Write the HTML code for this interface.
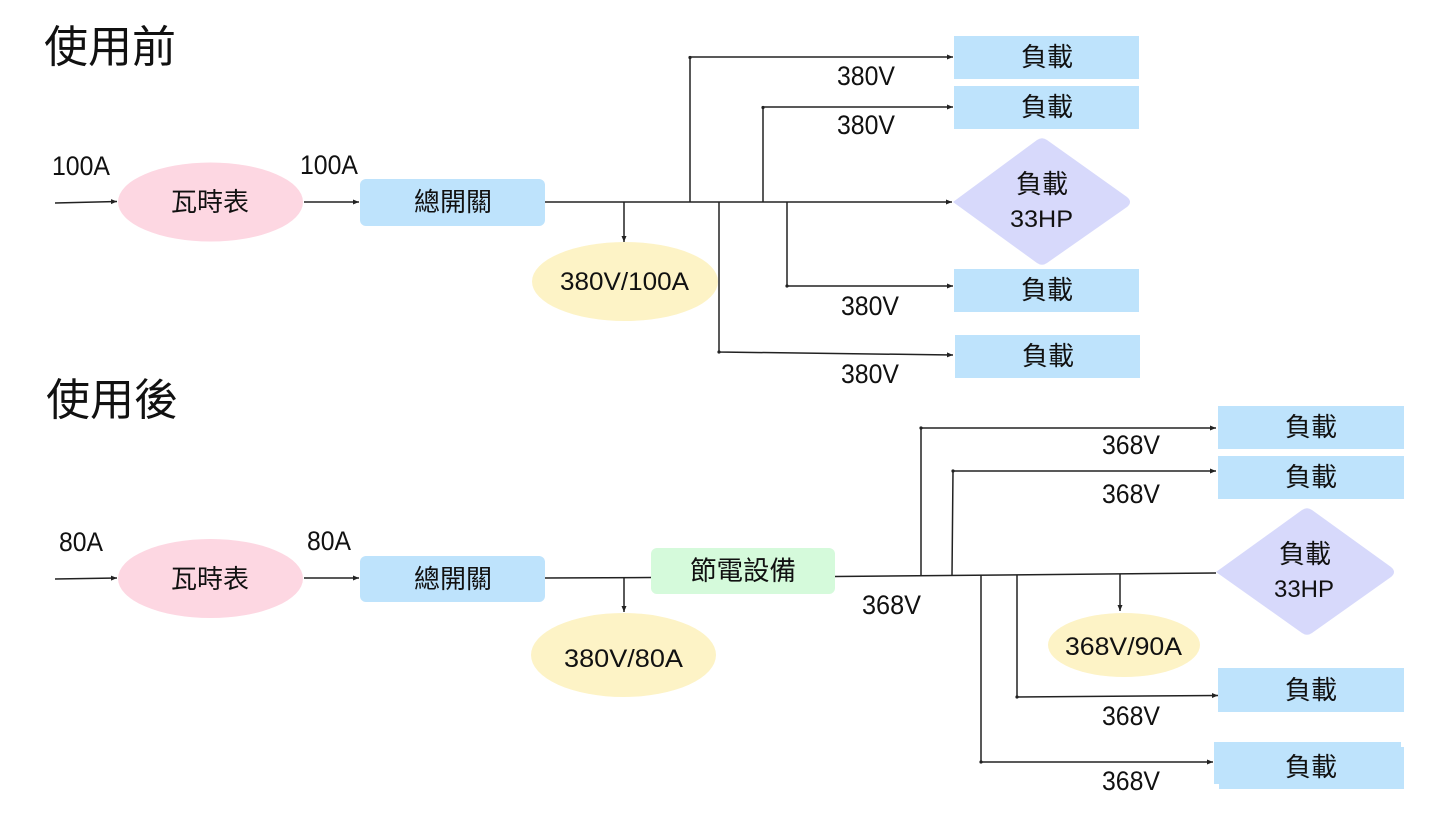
<!DOCTYPE html>
<html><head><meta charset="utf-8">
<style>
html,body{margin:0;padding:0;background:#fff;}
svg{display:block;}
.cjk{font-family:"Liberation Sans","Noto Sans CJK TC","Noto Sans CJK SC",sans-serif;fill:#111;}
.lat{font-family:"Liberation Sans",sans-serif;fill:#111;}
</style></head>
<body>
<svg width="1447" height="814" viewBox="0 0 1447 814" xmlns="http://www.w3.org/2000/svg">
<defs>
<marker id="ar" markerUnits="userSpaceOnUse" markerWidth="7" markerHeight="6" refX="6" refY="3" orient="auto">
<path d="M0,0.5 L6,3 L0,5.5 z" fill="#222"/>
</marker>
<marker id="dt" markerUnits="userSpaceOnUse" markerWidth="4" markerHeight="4" refX="2" refY="2">
<circle cx="2" cy="2" r="1.6" fill="#222"/>
</marker>
</defs>

<!-- Titles -->
<text class="cjk" x="44" y="62" font-size="44">使用前</text>
<text class="cjk" x="46" y="415" font-size="44">使用後</text>

<!-- ===== TOP ===== -->
<!-- shapes -->
<ellipse cx="210.5" cy="202" rx="92.5" ry="39.5" fill="#fdd7e2"/>
<rect x="360" y="179" width="185" height="47" rx="6" fill="#bee3fc"/>
<ellipse cx="625" cy="281.5" rx="93" ry="39.5" fill="#fdf3c6"/>
<rect x="954" y="36" width="185" height="43" fill="#bee3fc"/>
<rect x="954" y="86" width="185" height="43" fill="#bee3fc"/>
<path d="M953,202 L1037,140 Q1042,136.5 1047,140 L1127,197 Q1133,202 1127,207 L1047,263 Q1042,266.5 1037,263 Z" fill="#d7d9fb"/>
<rect x="954" y="269" width="185" height="43" fill="#bee3fc"/>
<rect x="955" y="335" width="185" height="43" fill="#bee3fc"/>

<!-- lines -->
<g stroke="#222" stroke-width="1.5" fill="none">
<line x1="55" y1="203" x2="117" y2="201.5" marker-end="url(#ar)"/>
<line x1="304" y1="202" x2="359" y2="202" marker-end="url(#ar)"/>
<line x1="545" y1="202" x2="952" y2="202" marker-end="url(#ar)"/>
<line x1="624" y1="202" x2="624" y2="242" marker-end="url(#ar)"/>
<polyline points="690,202 690,57 953,57" marker-end="url(#ar)"/>
<polyline points="763,202 763,107 953,107" marker-end="url(#ar)"/>
<polyline points="787,202 787,286 953,286" marker-end="url(#ar)"/>
<polyline points="719,202 719,352 953,355" marker-end="url(#ar)"/>
</g>
<g fill="#222">
<circle cx="690" cy="57.5" r="1.6"/><circle cx="763" cy="107.5" r="1.6"/>
<circle cx="787" cy="286" r="1.6"/><circle cx="719" cy="352" r="1.6"/>
</g>

<!-- text -->
<text class="lat" x="52" y="175" font-size="27" textLength="58" lengthAdjust="spacingAndGlyphs">100A</text>
<text class="lat" x="300" y="174" font-size="27" textLength="58" lengthAdjust="spacingAndGlyphs">100A</text>
<text class="cjk" x="210" y="211" font-size="26" text-anchor="middle">瓦時表</text>
<text class="cjk" x="453" y="211" font-size="26" text-anchor="middle">總開關</text>
<text class="lat" x="560" y="290" font-size="25" textLength="129" lengthAdjust="spacingAndGlyphs">380V/100A</text>
<text class="cjk" x="1047" y="66" font-size="26" text-anchor="middle">負載</text>
<text class="cjk" x="1047" y="116" font-size="26" text-anchor="middle">負載</text>
<text class="cjk" x="1042" y="193" font-size="26" text-anchor="middle">負載</text>
<text class="lat" x="1010" y="227" font-size="24" textLength="63" lengthAdjust="spacingAndGlyphs">33HP</text>
<text class="cjk" x="1047" y="299" font-size="26" text-anchor="middle">負載</text>
<text class="cjk" x="1048" y="365" font-size="26" text-anchor="middle">負載</text>
<text class="lat" x="837" y="85" font-size="27" textLength="58" lengthAdjust="spacingAndGlyphs">380V</text>
<text class="lat" x="837" y="134" font-size="27" textLength="58" lengthAdjust="spacingAndGlyphs">380V</text>
<text class="lat" x="841" y="315" font-size="27" textLength="58" lengthAdjust="spacingAndGlyphs">380V</text>
<text class="lat" x="841" y="383" font-size="27" textLength="58" lengthAdjust="spacingAndGlyphs">380V</text>

<!-- ===== BOTTOM ===== -->
<ellipse cx="210.5" cy="578.5" rx="92.5" ry="39.5" fill="#fdd7e2"/>
<rect x="360" y="556" width="185" height="46" rx="6" fill="#bee3fc"/>
<ellipse cx="623.5" cy="655" rx="92.5" ry="42" fill="#fdf3c6"/>
<rect x="651" y="548" width="184" height="46" rx="6" fill="#d5fadb"/>
<ellipse cx="1124" cy="645" rx="76" ry="32" fill="#fdf3c6"/>
<rect x="1218" y="406" width="186" height="43" fill="#bee3fc"/>
<rect x="1218" y="456" width="186" height="43" fill="#bee3fc"/>
<path d="M1216,572 L1302,510 Q1307,506.5 1312,510 L1391,567 Q1397,572 1391,577 L1312,633 Q1307,636.5 1302,633 Z" fill="#d7d9fb"/>
<rect x="1218" y="668" width="186" height="44" fill="#bee3fc"/>
<rect x="1214" y="742" width="187" height="42" fill="#bee3fc"/>
<rect x="1219" y="747" width="185" height="42" fill="#bee3fc"/>

<g stroke="#222" stroke-width="1.5" fill="none">
<line x1="55" y1="579" x2="117" y2="578" marker-end="url(#ar)"/>
<line x1="304" y1="578" x2="359" y2="578" marker-end="url(#ar)"/>
<line x1="545" y1="578" x2="651" y2="577.5"/>
<line x1="624" y1="578" x2="624" y2="612" marker-end="url(#ar)"/>
<line x1="835" y1="576.5" x2="1216" y2="573"/>
<polyline points="921,576 921,428 1216,428" marker-end="url(#ar)"/>
<polyline points="952,575.5 953,471 1216,471" marker-end="url(#ar)"/>
<polyline points="981,575 981,762 1213,762" marker-end="url(#ar)"/>
<polyline points="1017,575 1017,697 1218,695.5" marker-end="url(#ar)"/>
<line x1="1120" y1="574" x2="1120" y2="611" marker-end="url(#ar)"/>
</g>
<g fill="#222">
<circle cx="921" cy="428" r="1.6"/><circle cx="953" cy="471" r="1.6"/>
<circle cx="981" cy="762" r="1.6"/><circle cx="1017" cy="697" r="1.6"/>
</g>

<text class="lat" x="59" y="551" font-size="27" textLength="44" lengthAdjust="spacingAndGlyphs">80A</text>
<text class="lat" x="307" y="550" font-size="27" textLength="44" lengthAdjust="spacingAndGlyphs">80A</text>
<text class="cjk" x="210" y="588" font-size="26" text-anchor="middle">瓦時表</text>
<text class="cjk" x="453" y="588" font-size="26" text-anchor="middle">總開關</text>
<text class="cjk" x="743" y="580" font-size="26.5" text-anchor="middle">節電設備</text>
<text class="lat" x="564" y="667" font-size="25" textLength="119" lengthAdjust="spacingAndGlyphs">380V/80A</text>
<text class="lat" x="862" y="614" font-size="27" textLength="59" lengthAdjust="spacingAndGlyphs">368V</text>
<text class="lat" x="1065" y="655" font-size="25" textLength="117" lengthAdjust="spacingAndGlyphs">368V/90A</text>
<text class="cjk" x="1311" y="436" font-size="26" text-anchor="middle">負載</text>
<text class="cjk" x="1311" y="486" font-size="26" text-anchor="middle">負載</text>
<text class="cjk" x="1305" y="563" font-size="26" text-anchor="middle">負載</text>
<text class="lat" x="1274" y="597" font-size="24" textLength="60" lengthAdjust="spacingAndGlyphs">33HP</text>
<text class="cjk" x="1311" y="699" font-size="26" text-anchor="middle">負載</text>
<text class="cjk" x="1311" y="776" font-size="26" text-anchor="middle">負載</text>
<text class="lat" x="1102" y="454" font-size="27" textLength="58" lengthAdjust="spacingAndGlyphs">368V</text>
<text class="lat" x="1102" y="503" font-size="27" textLength="58" lengthAdjust="spacingAndGlyphs">368V</text>
<text class="lat" x="1102" y="725" font-size="27" textLength="58" lengthAdjust="spacingAndGlyphs">368V</text>
<text class="lat" x="1102" y="790" font-size="27" textLength="58" lengthAdjust="spacingAndGlyphs">368V</text>
</svg>
</body></html>
